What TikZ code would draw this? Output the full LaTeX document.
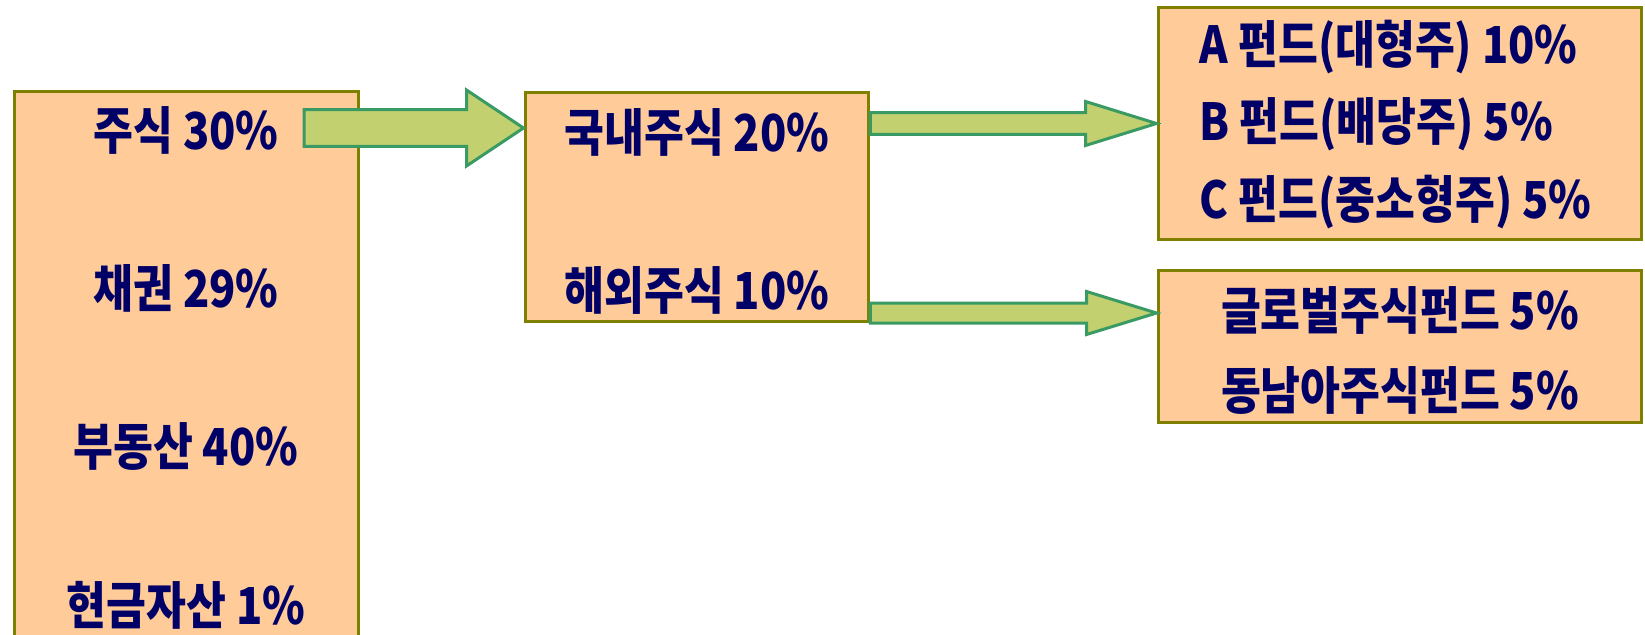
\documentclass[tikz,border=0pt]{standalone}
\usepackage{fontspec}
\newfontfamily\krfont[FakeStretch=0.85]{Noto Sans CJK KR}
\usetikzlibrary{calc}
\definecolor{peach}{HTML}{FFCC99}
\definecolor{olivebox}{HTML}{808000}
\definecolor{navytext}{HTML}{000066}
\definecolor{arrowfill}{HTML}{C3D06F}
\definecolor{arrowline}{HTML}{3A9A64}
% block arrow: start, tip, half shaft, half head, head length
\newcommand{\fatarrow}[5]{\draw[fat arrow] let \p1=#1, \p2=#2 in
	(\x1,\y1+#3) -- (\x2-#5,\y1+#3) -- (\x2-#5,\y1+#4) -- (\x2,\y1)
	-- (\x2-#5,\y1-#4) -- (\x2-#5,\y1-#3) -- (\x1,\y1-#3) -- cycle;}
\begin{document}
\begin{tikzpicture}[x=0.02cm,y=-0.02cm,node distance=3.17cm,
	box/.style = {rectangle,draw=olivebox,fill=peach,line width=0.06cm,inner sep=0pt},
	item/.style = {text=navytext,font=\krfont\bfseries\fontsize{29}{34}\selectfont,inner sep=2pt},
	fat arrow/.style = {draw=arrowline,fill=arrowfill,line width=0.06cm,line join=miter}]
	\useasboundingbox (0,0) rectangle (1645,635);
	
	\node[box,minimum width=6.9cm,minimum height=12.18cm] (assets) at (186.5,395.5) {};
	\node[box,minimum width=6.88cm,minimum height=4.6cm] (stocks) at (697,207) {};
	\node[box,minimum width=9.68cm,minimum height=4.66cm] (domestic) at (1400,123.5) {};
	\node[box,minimum width=9.68cm,minimum height=3.06cm] (overseas) at (1400,346.5) {};
	
	\node[item] (stock) at (186,130) {주식 30\%};
	\node[item] [below of = stock] (bond) {채권 29\%};
	\node[item] [below of = bond] (estate) {부동산 40\%};
	\node[item] [below of = estate] (cash) {현금자산 1\%};
	
	\node[item] (dom) at (697,132) {국내주식 20\%};
	\node[item] [below of = dom] (ovs) {해외주식 10\%};
	
	\node[item,anchor=west] (funda) at (1196,47) {A 펀드(대형주) 10\%};
	\node[item,anchor=west] (fundb) at (1196,124.5) {B 펀드(배당주) 5\%};
	\node[item,anchor=west] (fundc) at (1196,202) {C 펀드(중소형주) 5\%};
	
	\node[item] (glob) at (1400,310) {글로벌주식펀드 5\%};
	\node[item] [below of = glob,node distance=1.6cm] (asia) {동남아주식펀드 5\%};
	
	\coordinate (s1) at (304,128);
	\coordinate (t3) at ([yshift=0.67cm]overseas.west);
	\fatarrow{(s1)}{(stocks.west |- s1)}{0.37cm}{0.76cm}{1.14cm}
	\fatarrow{(stocks.east |- domestic.west)}{(domestic.west)}{0.22cm}{0.44cm}{1.42cm}
	\fatarrow{(stocks.east |- t3)}{(t3)}{0.2cm}{0.43cm}{1.4cm}
\end{tikzpicture}
\end{document}
